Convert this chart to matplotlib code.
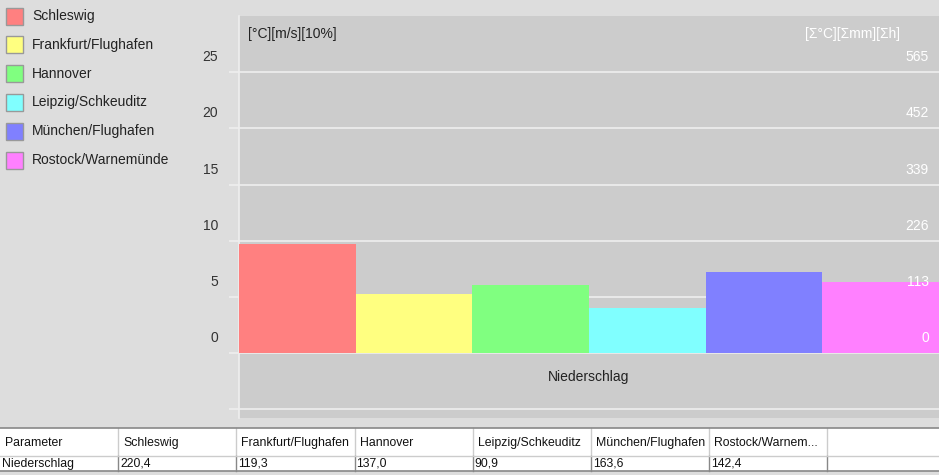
import matplotlib.pyplot as plt
import matplotlib.transforms as mtransforms
from matplotlib.patches import Rectangle
from matplotlib.lines import Line2D

# ---- data ------------------------------------------------------------------
stations = ['Schleswig', 'Frankfurt/Flughafen', 'Hannover',
            'Leipzig/Schkeuditz', 'München/Flughafen', 'Rostock/Warnemünde']
niederschlag = [220.4, 119.3, 137.0, 90.9, 163.6, 142.4]   # mm
bar_colors = ['#FF8080', '#FFFF80', '#80FF80', '#80FFFF', '#8080FF', '#FF80FF']

left_labels = [0, 5, 10, 15, 20, 25]
right_ticks = [0, 113, 226, 339, 452, 565]
table_header = ['Parameter', 'Schleswig', 'Frankfurt/Flughafen', 'Hannover',
                'Leipzig/Schkeuditz', 'München/Flughafen', 'Rostock/Warnem...']
parameter = 'Niederschlag'

# ---- figure ----------------------------------------------------------------
W, H = 939, 475
plt.rcParams['font.family'] = ['Liberation Sans', 'DejaVu Sans']

fig = plt.figure(figsize=(W / 100, H / 100), dpi=100, facecolor='#DDDDDD')


def fx(x):
    return x / W


def fy(y):
    return 1 - y / H


# plot area (pixel box 239..939 x 16..418)
ax = fig.add_axes([fx(239), fy(418), fx(939) - fx(239), (418 - 16) / H])
ax.set_facecolor('#CCCCCC')

x = list(range(len(stations)))
ax.bar(x, niederschlag, width=1.0, color=bar_colors, zorder=3)
ax.set_xlim(-0.5, len(stations) - 0.5)
ax.set_ylim(-130.5, 678)

ax.set_yticks([-113] + right_ticks)
ax.yaxis.grid(True, color='#EEEEEE', linewidth=1.2, zorder=1)
ax.set_axisbelow(True)
ax.tick_params(axis='y', length=7.2, color='#EEEEEE', width=1.2, labelleft=False)
ax.set_xticks([])
for side in ['top', 'right', 'bottom']:
    ax.spines[side].set_visible(False)
ax.spines['left'].set_color('#EEEEEE')
ax.spines['left'].set_linewidth(1.2)

# tick labels sit above their grid lines
ytr = ax.get_yaxis_transform()
left_tr = mtransforms.offset_copy(ytr, fig=fig, x=-21, y=15, units='dots')
right_tr = mtransforms.offset_copy(ytr, fig=fig, x=-10, y=15, units='dots')
for v, lab in zip(right_ticks, left_labels):
    ax.text(0, v, str(lab), transform=left_tr, ha='right', va='center',
            fontsize=10, color='#333333', clip_on=False)
    ax.text(1, v, str(v), transform=right_tr, ha='right', va='center',
            fontsize=10, color='white', zorder=5, clip_on=False)

fig.text(fx(248), fy(34), '[°C][m/s][10%]', ha='left', va='center',
         fontsize=10, color='#222222')
fig.text(fx(900), fy(34), '[Σ°C][Σmm][Σh]', ha='right', va='center',
         fontsize=10, color='white')
fig.text(fx(589), fy(377), parameter, ha='center', va='center',
         fontsize=10, color='#222222')

# ---- legend ----------------------------------------------------------------
for i, (name, col) in enumerate(zip(stations, bar_colors)):
    yc = 16 + i * 28.8
    fig.add_artist(Rectangle((fx(6), fy(yc + 8.5)), 17 / W, 17 / H,
                             transform=fig.transFigure, facecolor=col,
                             edgecolor='#999999', linewidth=1))
    fig.text(fx(32), fy(yc), name, ha='left', va='center',
             fontsize=10, color='#222222')

# ---- table -----------------------------------------------------------------
fig.add_artist(Rectangle((0, fy(471)), 1, (471 - 428) / H,
                         transform=fig.transFigure, facecolor='white',
                         edgecolor='none'))
col_w = 118.2
n_cols = len(table_header)
for j in range(1, n_cols + 1):
    xl = fx(j * col_w)
    fig.add_artist(Line2D([xl, xl], [fy(428), fy(456)], color='#CCCCCC',
                          linewidth=1, transform=fig.transFigure))
    fig.add_artist(Line2D([xl, xl], [fy(456), fy(471)], color='#888888',
                          linewidth=1, transform=fig.transFigure))
fig.add_artist(Line2D([0, 1], [fy(428), fy(428)], color='#888888',
                      linewidth=1.2, transform=fig.transFigure))
fig.add_artist(Line2D([0, 1], [fy(456), fy(456)], color='#CCCCCC',
                      linewidth=1, transform=fig.transFigure))
fig.add_artist(Line2D([0, 1], [fy(471), fy(471)], color='#888888',
                      linewidth=1.2, transform=fig.transFigure))

row_values = [parameter] + [f'{v:.1f}'.replace('.', ',') for v in niederschlag]
for j, (head, val) in enumerate(zip(table_header, row_values)):
    x0 = j * col_w
    fig.text(fx(x0 + 5), fy(443), head, ha='left', va='center',
             fontsize=8.8, color='#111111')
    fig.text(fx(x0 + 2), fy(463.5), val, ha='left', va='center',
             fontsize=8.8, color='#111111')

fig.savefig('out.png', dpi=100, facecolor=fig.get_facecolor())
